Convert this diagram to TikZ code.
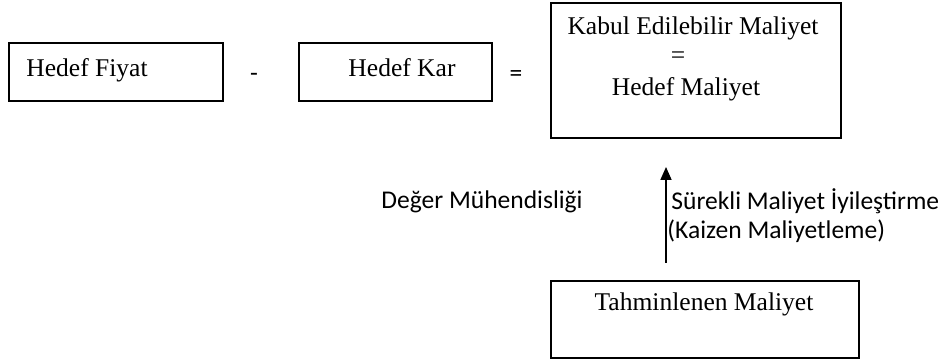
\documentclass[tikz,border=0pt]{standalone}
\usepackage{fontspec}
\setmainfont{Liberation Serif}
\newfontfamily\calibri{Carlito}
\usetikzlibrary{arrows.meta,positioning}

\tikzset{
  kutu/.style={draw, line width=0.8pt, inner sep=0pt},
  yazi/.style={inner sep=0pt, font=\fontsize{12}{14}\selectfont},
  sans/.style={inner sep=0pt, font=\calibri\fontsize{12}{14}\selectfont},
  ok/.style={line width=0.7pt, -{Triangle[width=5.2pt,length=6.1pt]}}
}

\begin{document}
\begin{tikzpicture}[x=0.47pt, y=-0.47pt]
  \useasboundingbox (0,0) rectangle (946,362);
  % upper row
  \node[kutu, minimum width=100.6pt, minimum height=27.3pt] (fiyat) at (116,72) {};
  \node[yazi, anchor=base west] (fiyattxt) at (26,77) {Hedef Fiyat};
  \node[sans] (eksi) at (254,77) {-};
  \node[kutu, minimum width=90.7pt, minimum height=27.3pt] (kar) at (395.5,72) {};
  \node[yazi, anchor=base] (kartxt) at (402,77) {Hedef Kar};
  \node[sans] (esit) at (516,76) {=};
  % target cost box
  \node[kutu, minimum width=136.3pt, minimum height=63.4pt] (hedef) at (696,70.5) {};
  \node[yazi, anchor=base] (kabul) at (693,35) {Kabul Edilebilir Maliyet};
  \node[yazi, anchor=base] (esit2) at (678,64) {=};
  \node[yazi, anchor=base] (hmal) at (686,96) {Hedef Maliyet};
  % estimated cost box
  \node[kutu, minimum width=144.8pt, minimum height=36.2pt] (tahmin) at (705,319.5) {};
  \node[yazi, anchor=base] (tahmintxt) at (704,311) {Tahminlenen Maliyet};
  % arrow and its labels
  \coordinate (okalt) at (666,263);
  \coordinate (okust) at (666,167);
  \draw[ok] (okalt) -- (okust);
  \node[sans, anchor=base west] (deger) at (381,209) {Değer Mühendisliği};
  \node[sans, anchor=base west] (surekli) at (671,210) {Sürekli Maliyet İyileştirme};
  \node[sans, anchor=base west] (kaizen) at (667,239) {(Kaizen Maliyetleme)};
\end{tikzpicture}
\end{document}
